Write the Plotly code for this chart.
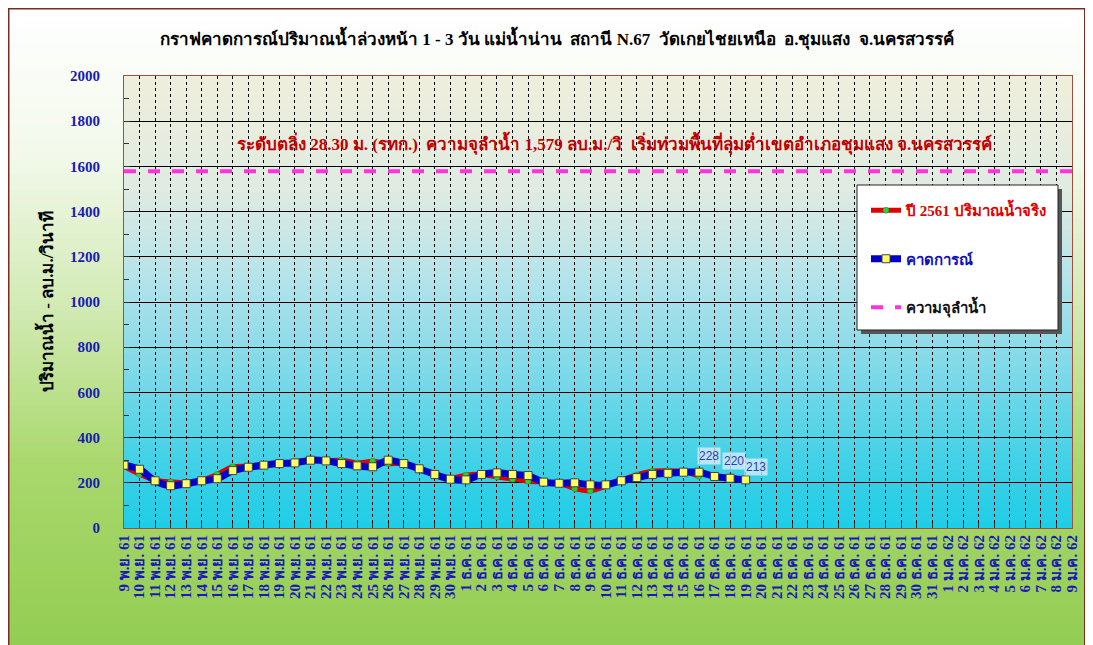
import plotly.graph_objects as go

# ---------------- data ----------------
nov_days = list(range(9, 31))
dec_days = list(range(1, 32))
jan_days = list(range(1, 10))
categories = ([f"{d} พ.ย. 61" for d in nov_days]
              + [f"{d} ธ.ค. 61" for d in dec_days]
              + [f"{d} ม.ค. 62" for d in jan_days])

actual_2561 = [272, 238, 212, 204, 200, 212, 237, 271, 274, 280, 287, 293, 300, 297,
               300, 288, 295, 285, 285, 262, 237, 220, 234, 237, 226, 216, 207, 203,
               198, 175, 165, 185, 212, 235, 251, 253, 250, 229]
forecast = [278, 260, 209, 187, 196, 209, 218, 254, 269, 278, 285, 288, 300, 297,
            285, 275, 271, 300, 285, 262, 237, 216, 213, 237, 244, 237, 232, 203,
            198, 200, 191, 191, 209, 223, 237, 242, 247, 247, 228, 220, 213]
forecast_days_labelled = 3
capacity_value = 1579
capacity = [capacity_value] * len(categories)

y_ticks = [0, 200, 400, 600, 800, 1000, 1200, 1400, 1600, 1800, 2000]

title_text = "กราฟคาดการณ์ปริมาณน้ำล่วงหน้า 1 - 3 วัน แม่น้ำน่าน  สถานี N.67  วัดเกยไชยเหนือ  อ.ชุมแสง  จ.นครสวรรค์"
note_text = "ระดับตลิ่ง 28.30 ม. (รทก.)  ความจุลำน้ำ 1,579 ลบ.ม./วิ  เริ่มท่วมพื้นที่ลุ่มต่ำเขตอำเภอชุมแสง จ.นครสวรรค์"
y_title = "ปริมาณน้ำ - ลบ.ม./วินาที"
name_actual = "ปี 2561 ปริมาณน้ำจริง"
name_forecast = "คาดการณ์"
name_capacity = "ความจุลำน้ำ"

# ---------------- layout geometry (reference pixels) ----------------
OFF = 8                      # page body margin
W, H = 1093 - OFF, 645 - OFF
L, R, T, B = 124, 1072, 76, 528
PW, PH = R - L, B - T


def px(x):
    return (x - L) / PW


def py(y):
    return (B - y) / PH


def hex2rgb(h):
    h = h.lstrip("#")
    return tuple(int(h[i:i + 2], 16) for i in (0, 2, 4))


def interp(stops, t):
    for (t0, c0), (t1, c1) in zip(stops, stops[1:]):
        if t0 <= t <= t1:
            f = (t - t0) / (t1 - t0) if t1 > t0 else 0
            a, b = hex2rgb(c0), hex2rgb(c1)
            return "rgb(%d,%d,%d)" % tuple(round(a[i] + (b[i] - a[i]) * f) for i in range(3))
    return stops[-1][1]


def gradient(x0, x1, y0, y1, stops, n):
    shapes = []
    step = (y1 - y0) / n
    for i in range(n):
        ya = y0 + i * step
        yb = ya + step + 0.8
        t = (i + 0.5) / n
        shapes.append(dict(type="rect", xref="paper", yref="paper",
                           x0=px(x0), x1=px(x1), y0=py(ya), y1=py(min(yb, y1)),
                           fillcolor=interp(stops, t), line=dict(width=0),
                           layer="below"))
    return shapes


shapes = []
# chart area gradient white -> green
shapes += gradient(8, 1086, 8, 660,
                   [(0, "#ffffff"), (0.22, "#f3f9ec"), (0.45, "#d3ebb6"),
                    (0.7, "#a9d86d"), (1.0, "#92cc50")], 90)
# chart area border
shapes.append(dict(type="rect", xref="paper", yref="paper",
                   x0=px(8.5), x1=px(1085), y0=py(8.5), y1=py(670),
                   line=dict(color="#7a2b22", width=2), fillcolor="rgba(0,0,0,0)",
                   layer="below"))
# plot area gradient beige -> cyan
shapes += gradient(L, R, T, B,
                   [(0, "#efeedb"), (0.25, "#e0ebe2"), (0.45, "#b3e3ea"),
                    (0.65, "#7fd9e8"), (0.85, "#42d1e6"), (1.0, "#1ecde6")], 70)
# legend shadow + box
shapes.append(dict(type="rect", xref="paper", yref="paper",
                   x0=px(861), x1=px(1062), y0=py(189), y1=py(334),
                   fillcolor="#555555", line=dict(width=0), layer="above"))
shapes.append(dict(type="rect", xref="paper", yref="paper",
                   x0=px(857), x1=px(1058), y0=py(185), y1=py(330),
                   fillcolor="#ffffff", line=dict(color="#222222", width=1),
                   layer="above"))

FONT = "Liberation Serif, DejaVu Serif, Noto Serif, serif"

fig = go.Figure()

fig.add_trace(go.Scatter(
    x=categories[:len(actual_2561)], y=actual_2561, mode="lines+markers",
    name=f"<b><span style='color:#e00000'>{name_actual}</span></b>",
    line=dict(color="#e00000", width=5, shape="spline", smoothing=0.8),
    marker=dict(symbol="circle", size=6, color="#33cc33",
                line=dict(color="#228822", width=0.5)),
    legendgroup="a"))

fig.add_trace(go.Scatter(
    x=categories[:len(forecast)], y=forecast, mode="lines+markers",
    name=f"<b><span style='color:#1010c0'>{name_forecast}</span></b>",
    line=dict(color="#0000cc", width=7, shape="spline", smoothing=0.8),
    marker=dict(symbol="square", size=8, color="#ffff66",
                line=dict(color="#444444", width=1)),
    legendgroup="b"))

fig.add_trace(go.Scatter(
    x=categories, y=capacity, mode="lines",
    name=f"<b><span style='color:#111111'>{name_capacity}</span></b>",
    line=dict(color="#ff33dd", width=4, dash="dash"),
    legendgroup="c"))

annotations = [
    dict(text=f"<b>{title_text}</b>", xref="paper", yref="paper",
         x=px(557), y=py(38), showarrow=False, xanchor="center", yanchor="middle",
         font=dict(family=FONT, size=17, color="#000000")),
    dict(text=f"<b>{note_text}</b>", xref="paper", yref="paper",
         x=px(614), y=py(143), showarrow=False, xanchor="center", yanchor="middle",
         font=dict(family=FONT, size=17, color="#c00000")),
    dict(text=f"<b>{y_title}</b>", xref="paper", yref="paper",
         x=px(45), y=py(302), showarrow=False, textangle=-90,
         xanchor="center", yanchor="middle",
         font=dict(family=FONT, size=17, color="#000000")),
]
label_xshift = [-6, 4, 10]
label_yshift = [20, 17, 13]
n = len(forecast)
for k, i in enumerate(range(n - forecast_days_labelled, n)):
    annotations.append(dict(
        x=categories[i], y=forecast[i], xref="x", yref="y",
        text=str(forecast[i]), showarrow=False,
        yshift=label_yshift[k], xshift=label_xshift[k],
        bgcolor="rgba(225,238,252,0.75)", borderpad=1,
        font=dict(family="Liberation Sans, Arial, sans-serif", size=12, color="#3838a8")))

fig.update_layout(
    width=W, height=H,
    margin=dict(l=L - OFF, r=(1093 - R), t=T - OFF, b=(645 - B)),
    paper_bgcolor="#ffffff",
    plot_bgcolor="rgba(0,0,0,0)",
    shapes=shapes,
    annotations=annotations,
    showlegend=True,
    legend=dict(x=px(866), y=py(194), xanchor="left", yanchor="top",
                bgcolor="rgba(0,0,0,0)", borderwidth=0,
                traceorder="grouped", tracegroupgap=26,
                font=dict(family=FONT, size=15)),
    font=dict(family=FONT),
)

fig.update_xaxes(
    type="category", categoryorder="array", categoryarray=categories,
    tickmode="array", tickvals=categories, ticktext=[f"<b>{c}</b>" for c in categories],
    range=[0, len(categories) - 1],
    tickangle=-90, tickfont=dict(family=FONT, size=15, color="#1a1ab4"),
    showgrid=True, gridcolor="#000000", gridwidth=1, griddash="3px,3px",
    ticks="inside", ticklen=5, tickcolor="#333333",
    showline=True, linecolor="#a0503c", linewidth=1, mirror=True,
    zeroline=False,
)
fig.update_yaxes(
    range=[0, 2000], tickmode="array", tickvals=y_ticks,
    ticktext=[f"<b>{v}</b>" for v in y_ticks],
    tickfont=dict(family=FONT, size=15, color="#1a1ab4"),
    showgrid=True, gridcolor="#000000", gridwidth=1,
    ticks="inside", ticklen=6, tickcolor="#333333",
    minor=dict(dtick=100, ticks="inside", ticklen=5, tickcolor="#333333", showgrid=False),
    showline=True, linecolor="#a0503c", linewidth=1, mirror=True,
    zeroline=False, ticklabelstandoff=20,
)

fig.write_html("out.html")
